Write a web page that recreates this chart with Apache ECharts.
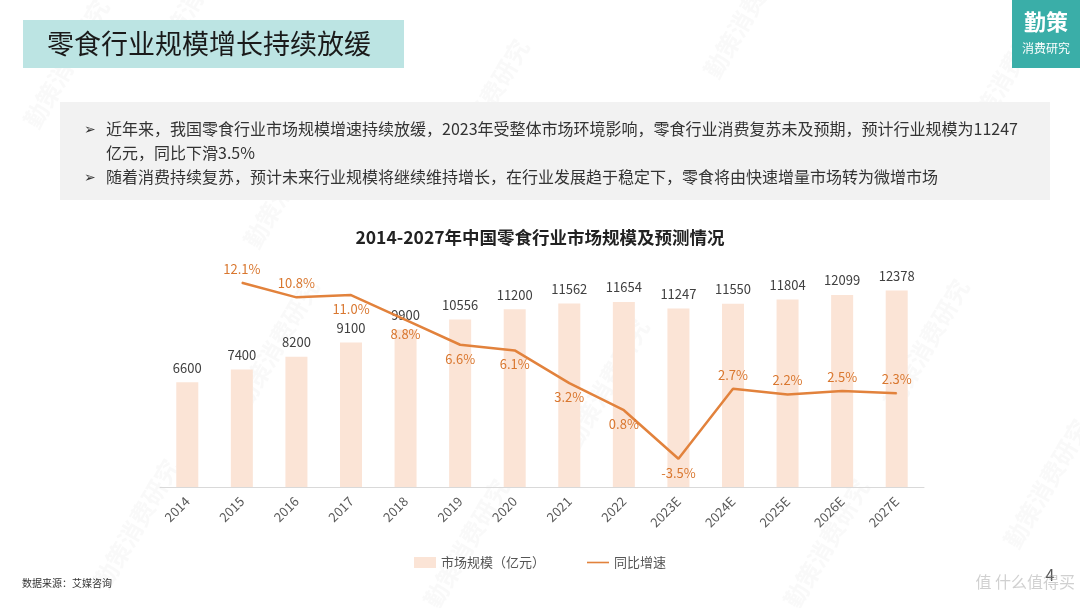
<!DOCTYPE html>
<html>
<head>
<meta charset="utf-8">
<script src="https://cdn.jsdelivr.net/npm/echarts@6/dist/echarts.min.js"></script>
<style>
  html, body { margin: 0; padding: 0; background: #fff; }
  #main { width: 1080px; height: 608px; }
</style>
</head>
<body>
<div id="main"></div>
<script>
// 年份
const years = ['2014','2015','2016','2017','2018','2019','2020','2021','2022','2023E','2024E','2025E','2026E','2027E']
// 市场规模（亿元）
const marketSize = [6600,7400,8200,9100,9900,10556,11200,11562,11654,11247,11550,11804,12099,12378]
// 同比增速（%），2014 无数据
const growth = [null,12.1,10.8,11.0,8.8,6.6,6.1,3.2,0.8,-3.5,2.7,2.2,2.5,2.3]

const pageTitle = '零食行业规模增长持续放缓'
const chartTitle = '2014-2027年中国零食行业市场规模及预测情况'
const bullets = [
    '近年来，我国零食行业市场规模增速持续放缓，2023年受整体市场环境影响，零食行业消费复苏未及预期，预计行业规模为11247',
    '亿元，同比下滑3.5%',
    '随着消费持续复苏，预计未来行业规模将继续维持增长，在行业发展趋于稳定下，零食将由快速增量市场转为微增市场'
]

const font = '"Noto Sans CJK SC", "Noto Sans", sans-serif'
const orange = '#E2823C'
const peach = '#FBE4D6'

// 标签放在点下方的年份
const belowIdx = [3,4,5,6,7,8,9]

const chart = echarts.init(document.getElementById('main'))

// 淡水印
let marks = []
const markPos = [[20,120],[150,50],[440,160],[230,400],[560,440],[880,400],[960,130],[700,70],[90,580],[420,600],[780,600],[1000,540],[240,240]]
markPos.forEach(p => {
    marks.push({
        type: 'text', x: p[0], y: p[1], rotation: Math.PI / 3, silent: true, z: 0,
        style: { text: '勤策消费研究', fill: 'rgba(180,180,180,0.08)', font: 'bold 24px ' + font }
    })
})

const option = {
    animation: false,
    textStyle: { fontFamily: font },
    title: {
        text: chartTitle,
        left: 'center',
        top: 224,
        textStyle: { fontSize: 17.5, fontWeight: 'bold', color: '#222', fontFamily: font }
    },
    legend: {
        bottom: 34,
        left: 'center',
        itemGap: 42,
        itemWidth: 22,
        itemHeight: 11,
        textStyle: { fontSize: 13, color: '#555', fontFamily: font },
        data: [
            { name: '市场规模（亿元）', icon: 'rect' },
            { name: '同比增速', icon: 'path://M0,0 L30,0 L30,2.2 L0,2.2 Z' }
        ]
    },
    grid: { left: 160, right: 156, top: 233, bottom: 121, containLabel: false },
    xAxis: {
        type: 'category',
        data: years,
        axisLine: { lineStyle: { color: '#D9D9D9' } },
        axisTick: { show: false },
        axisLabel: { rotate: 45, color: '#595959', fontSize: 13, margin: 12 }
    },
    yAxis: [
        { type: 'value', min: 0, max: 16000, show: false, splitLine: { show: false } },
        { type: 'value', min: -6, max: 16.5, show: false, splitLine: { show: false } }
    ],
    series: [
        {
            name: '市场规模（亿元）',
            type: 'bar',
            data: marketSize,
            barWidth: 22,
            itemStyle: { color: peach },
            label: { show: true, position: 'top', color: '#404040', fontSize: 13, distance: 8 },
            z: 2
        },
        {
            name: '同比增速',
            type: 'line',
            yAxisIndex: 1,
            data: growth.map((v, i) => ({
                value: v,
                label: { position: belowIdx.includes(i) ? 'bottom' : 'top' }
            })),
            symbol: 'circle',
            symbolSize: 1,
            showSymbol: true,
            lineStyle: { color: orange, width: 2.5 },
            itemStyle: { color: orange },
            label: {
                show: true,
                color: '#D9772F',
                fontSize: 13,
                distance: 7,
                formatter: p => (p.value == null ? '' : Number(p.value).toFixed(1) + '%')
            },
            z: 3
        }
    ],
    graphic: marks.concat([
        { type: 'rect', shape: { x: 23, y: 20, width: 381, height: 48 }, style: { fill: '#BCE4E3' }, z: 1 },
        { type: 'text', x: 47, y: 44, style: { text: pageTitle, fill: '#1a1a1a', font: '27px ' + font, verticalAlign: 'middle' }, z: 2 },
        { type: 'rect', shape: { x: 1012, y: 0, width: 68, height: 68 }, style: { fill: '#3AAEA8' }, z: 1 },
        { type: 'text', x: 1046, y: 22, style: { text: '勤策', fill: '#fff', font: 'bold 22px ' + font, align: 'center', verticalAlign: 'middle' }, z: 2 },
        { type: 'text', x: 1046, y: 48, style: { text: '消费研究', fill: '#fff', font: '12px ' + font, align: 'center', verticalAlign: 'middle' }, z: 2 },
        { type: 'rect', shape: { x: 60, y: 102, width: 990, height: 98 }, style: { fill: '#F2F2F2' }, z: 1 },
        { type: 'text', x: 84, y: 129, style: { text: '➢', fill: '#333', font: '14px ' + font, verticalAlign: 'middle' }, z: 2 },
        { type: 'text', x: 106, y: 129, style: { text: bullets[0], fill: '#333', font: '16px ' + font, verticalAlign: 'middle' }, z: 2 },
        { type: 'text', x: 106, y: 153, style: { text: bullets[1], fill: '#333', font: '16px ' + font, verticalAlign: 'middle' }, z: 2 },
        { type: 'text', x: 84, y: 177, style: { text: '➢', fill: '#333', font: '14px ' + font, verticalAlign: 'middle' }, z: 2 },
        { type: 'text', x: 106, y: 177, style: { text: bullets[2], fill: '#333', font: '16px ' + font, verticalAlign: 'middle' }, z: 2 },
        { type: 'text', x: 22, y: 583, style: { text: '数据来源：艾媒咨询', fill: '#333', font: '10px ' + font, verticalAlign: 'middle' }, z: 2 },
        { type: 'text', x: 1050, y: 575, style: { text: '4', fill: '#555', font: '16px ' + font, align: 'center', verticalAlign: 'middle' }, z: 2 },
        { type: 'text', x: 1075, y: 582, style: { text: '值 什么值得买', fill: 'rgba(150,150,150,0.45)', font: '16px ' + font, align: 'right', verticalAlign: 'middle' }, z: 2 }
    ])
}

chart.setOption(option)
</script>
</body>
</html>
